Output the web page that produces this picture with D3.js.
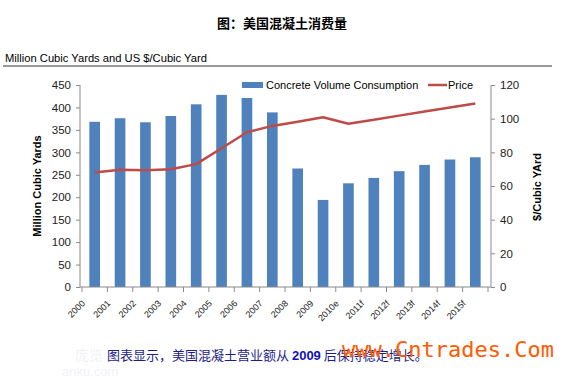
<!DOCTYPE html>
<html>
<head>
<meta charset="utf-8">
<script src="https://cdn.jsdelivr.net/npm/d3@7"></script>
<style>
  body { margin: 0; background: #fff; }
  text { font-family: "Liberation Sans", Arial, sans-serif; }
</style>
</head>
<body>
<svg id="chart" width="564" height="386"></svg>
<script>
// categories and series
const years = ["2000","2001","2002","2003","2004","2005","2006","2007",
               "2008","2009","2010e","2011f","2012f","2013f","2014f","2015f"];
const volume = [368,376,367,381,407,428,421,389,264,194,231,243,258,272,284,289];
const price  = [68,69.7,69.3,69.9,73,82.4,91.9,95.7,98.2,100.8,97,99.4,101.8,104.2,106.6,109];
const volTicks = [0,50,100,150,200,250,300,350,400,450];
const priceTicks = [0,20,40,60,80,100,120];

const svg = d3.select("#chart");
const axisColor = "#8a8a8a";

// page title
svg.append("text")
    .attr("x", 282).attr("y", 28)
    .attr("text-anchor", "middle")
    .style("font-family", "'Noto Sans CJK SC', sans-serif")
    .style("font-weight", "bold")
    .style("font-size", "13px")
    .text("图：美国混凝土消费量");

// subtitle with rule
svg.append("text")
    .attr("x", 5).attr("y", 62)
    .style("font-size", "11.2px")
    .text("Million Cubic Yards and US $/Cubic Yard");
svg.append("line")
    .attr("x1", 3).attr("x2", 552)
    .attr("y1", 66).attr("y2", 66)
    .attr("stroke", "#777").attr("stroke-width", 1.3);

// scales
let x = d3.scaleBand()
    .domain(years)
    .range([82, 488])
    .paddingInner(0.58)
    .paddingOuter(0.29);

let yLeft = d3.scaleLinear().domain([0, 450]).range([287, 85]);
let yRight = d3.scaleLinear().domain([0, 120]).range([287, 85]);

// bars
svg.append("g")
    .selectAll("rect")
    .data(volume)
    .enter().append("rect")
    .attr("x", (d,i)=>x(years[i]))
    .attr("width", x.bandwidth())
    .attr("y", d=>yLeft(d))
    .attr("height", d=>yLeft(0)-yLeft(d))
    .attr("fill", "#4f81bd");

// price line
let line = d3.line()
    .x((d,i)=>x(years[i]) + x.bandwidth()/2)
    .y(d=>yRight(d));

svg.append("path")
    .datum(price)
    .attr("d", line)
    .attr("fill", "none")
    .attr("stroke", "#be4b48")
    .attr("stroke-width", 2.5)
    .attr("stroke-linejoin", "round");

// left axis
let leftAxis = d3.axisLeft(yLeft).tickValues(volTicks).tickSize(4).tickPadding(5);
let gl = svg.append("g").attr("transform", "translate(80,0)").call(leftAxis);
gl.select(".domain").attr("stroke", axisColor).attr("d", "M0,85V287");

// right axis
let rightAxis = d3.axisRight(yRight).tickValues(priceTicks).tickSize(4).tickPadding(5);
let gr = svg.append("g").attr("transform", "translate(491,0)").call(rightAxis);
gr.select(".domain").attr("stroke", axisColor).attr("d", "M0,85V287");

[gl, gr].forEach(g => {
    g.selectAll(".tick line").attr("stroke", axisColor);
    g.selectAll(".tick text")
        .style("font-family", "'Liberation Sans', Arial, sans-serif")
        .style("font-size", "11.5px")
        .attr("fill", "#222");
});

// bottom axis: line, ticks at category boundaries, rotated labels
let gb = svg.append("g");
gb.append("line")
    .attr("x1", 80).attr("x2", 491)
    .attr("y1", 287).attr("y2", 287)
    .attr("stroke", axisColor);
let step = x.step();
let edge = i => x(years[0]) - step * x.paddingInner() / 2 + i * step;
gb.selectAll("line.tk")
    .data(d3.range(years.length + 1))
    .enter().append("line")
    .attr("class", "tk")
    .attr("x1", edge).attr("x2", edge)
    .attr("y1", 287).attr("y2", 292)
    .attr("stroke", axisColor);

gb.selectAll("text")
    .data(years)
    .enter().append("text")
    .attr("transform", d=>`translate(${x(d) + x.bandwidth()/2 - 9},${304}) rotate(-45)`)
    .attr("text-anchor", "end")
    .style("font-size", "9px")
    .attr("fill", "#222")
    .text(d=>d);

// axis titles
svg.append("text")
    .attr("transform", "translate(41,186) rotate(-90)")
    .attr("text-anchor", "middle")
    .style("font-size", "11px")
    .style("font-weight", "bold")
    .text("Million Cubic Yards");
svg.append("text")
    .attr("transform", "translate(541,187) rotate(-90)")
    .attr("text-anchor", "middle")
    .style("font-size", "11px")
    .style("font-weight", "bold")
    .text("$/Cubic YArd");

// legend
let lg = svg.append("g");
lg.append("rect").attr("x", 242).attr("y", 82).attr("width", 21).attr("height", 6).attr("fill", "#4f81bd");
lg.append("text").attr("x", 266).attr("y", 89).style("font-size", "11px").text("Concrete Volume Consumption");
lg.append("line").attr("x1", 428).attr("x2", 447).attr("y1", 85).attr("y2", 85)
    .attr("stroke", "#be4b48").attr("stroke-width", 2.5);
lg.append("text").attr("x", 448).attr("y", 89).style("font-size", "11px").text("Price");

// faint background watermark
svg.append("text")
    .attr("x", 75).attr("y", 360)
    .style("font-size", "14px")
    .style("font-family", "'Noto Sans CJK SC', sans-serif")
    .attr("fill", "#f1f1f5")
    .text("庞览");
svg.append("text")
    .attr("x", 62).attr("y", 376)
    .style("font-size", "13px")
    .attr("fill", "#f2f2f5")
    .text("anku.com");

// caption
let cap = svg.append("text")
    .attr("x", 107).attr("y", 360)
    .style("font-family", "'Noto Sans CJK SC', sans-serif")
    .style("font-size", "13px")
    .attr("fill", "#1c1c8a");
cap.append("tspan").text("图表显示，美国混凝土营业额从 ");
cap.append("tspan").style("font-weight", "bold").attr("fill", "#1010c0")
    .style("font-family", "'Liberation Sans', Arial, sans-serif").text("2009");
cap.append("tspan").text(" 后保持稳定增长。");

// site watermark
svg.append("text")
    .attr("x", 342).attr("y", 357)
    .style("font-family", "'DejaVu Sans Mono', monospace")
    .style("font-size", "22px")
    .attr("fill", "#ff5a00")
    .text("www.Cntrades.Com");
</script>
</body>
</html>
